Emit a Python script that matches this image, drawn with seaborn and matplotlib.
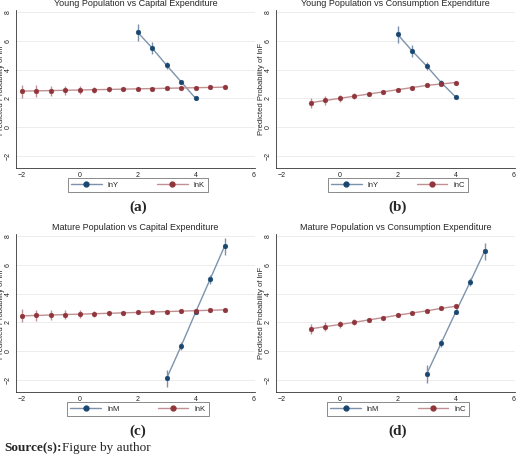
import matplotlib
matplotlib.use("Agg")
import matplotlib.pyplot as plt
import seaborn as sns
import numpy as np
import pandas as pd

sns.set_style("white")
plt.rcParams['font.family'] = ['Liberation Sans', 'DejaVu Sans']

x_y = [2, 2.5, 3, 3.5, 4]
a_lnY = [6.6, 5.5, 4.3, 3.15, 2.0]
a_lnY_err = [0.6, 0.4, 0.25, 0.15, 0.1]
x_k = [-2, -1.5, -1, -0.5, 0, 0.5, 1, 1.5, 2, 2.5, 3, 3.5, 4, 4.5, 5]
a_lnK = [2.5, 2.52, 2.54, 2.56, 2.58, 2.6, 2.62, 2.64, 2.66, 2.68, 2.7, 2.72, 2.74, 2.76, 2.78]
k_err = [0.45, 0.4, 0.35, 0.3, 0.26, 0.22, 0.18, 0.15, 0.12, 0.1, 0.1, 0.1, 0.1, 0.1, 0.12]
b_lnY = [6.45, 5.3, 4.25, 3.1, 2.1]
x_c = [-1, -0.5, 0, 0.5, 1, 1.5, 2, 2.5, 3, 3.5, 4]
b_lnC = [1.7, 1.85, 2.0, 2.15, 2.3, 2.45, 2.6, 2.75, 2.9, 3.0, 3.1]
c_err = [0.35, 0.3, 0.25, 0.2, 0.15, 0.12, 0.1, 0.1, 0.1, 0.1, 0.12]
x_m = [3, 3.5, 4, 4.5, 5]
c_lnM = [-1.9, 0.35, 2.7, 5.0, 7.3]
m_err = [0.6, 0.3, 0.15, 0.3, 0.6]
c_lnK = [2.45, 2.48, 2.51, 2.54, 2.57, 2.6, 2.63, 2.66, 2.69, 2.72, 2.75, 2.78, 2.81, 2.84, 2.87]
d_lnM = [-1.6, 0.55, 2.7, 4.8, 6.95]
d_lnC = [1.55, 1.7, 1.85, 2.0, 2.17, 2.33, 2.5, 2.65, 2.8, 2.97, 3.12]

NAVY = "#1a476f"; MAR = "#90353b"
NAVY_L = "#7d93ad"; MAR_L = "#c09093"

panels = [
    ("Young Population vs Capital Expenditure", "(a)", ("lnY", x_y, a_lnY, a_lnY_err), ("lnK", x_k, a_lnK, k_err)),
    ("Young Population vs Consumption Expenditure", "(b)", ("lnY", x_y, b_lnY, a_lnY_err), ("lnC", x_c, b_lnC, c_err)),
    ("Mature Population vs Capital Expenditure", "(c)", ("lnM", x_m, c_lnM, m_err), ("lnK", x_k, c_lnK, k_err)),
    ("Mature Population vs Consumption Expenditure", "(d)", ("lnM", x_m, d_lnM, m_err), ("lnC", x_c, d_lnC, c_err)),
]

fig = plt.figure(figsize=(5.2, 4.58), dpi=100)
W, H = 520, 458
for i, (title, lab, s1, s2) in enumerate(panels):
    ox = 0 if i % 2 == 0 else 260
    oy = 0 if i < 2 else 224
    ax = fig.add_axes([(ox + 16) / W, 1 - (oy + 168) / H, 239 / W, 158 / H])
    handles = []
    for (name, xs, ys, es), c, cl in [(s1, NAVY, NAVY_L), (s2, MAR, MAR_L)]:
        df = pd.DataFrame({"x": xs, "y": ys})
        ax.errorbar(xs, ys, yerr=es, fmt="none", ecolor=cl, elinewidth=1, zorder=1)
        sns.lineplot(data=df, x="x", y="y", ax=ax, color=cl, lw=1, zorder=2, legend=False)
        sns.scatterplot(data=df, x="x", y="y", ax=ax, color=c, s=12, edgecolor=c, zorder=3, legend=False)
        h, = ax.plot([], [], color=cl, lw=1, marker="o", ms=3.5, mfc=c, mec=c, label=name)
        handles.append(h)
    ax.set_xlim(-2.2, 6.05)
    ax.set_ylim(-2.85, 8.15)
    ax.set_xticks([-2, 0, 2, 4, 6])
    ax.set_yticks([-2, 0, 2, 4, 6, 8])
    ax.tick_params(labelsize=5, length=2, width=0.5, colors="#222222", pad=1)
    for t in ax.get_yticklabels():
        t.set_rotation(90); t.set_va("center")
    ax.set_xlabel("")
    ax.set_ylabel("Predicted Probability of lnF", fontsize=5.5)
    ax.yaxis.set_label_coords(-11 / 239, 0.5)
    ax.set_title(title, fontsize=6.5, pad=3)
    ax.grid(True, axis="y", color="#eaeaea", lw=0.6)
    for s in ["top", "right"]:
        ax.spines[s].set_visible(False)
    for s in ["left", "bottom"]:
        ax.spines[s].set_linewidth(0.6); ax.spines[s].set_color("#333333")
    leg = fig.legend(handles=handles, loc="center", ncol=2, fontsize=5.5,
                     bbox_to_anchor=((ox + 138) / W, 1 - (oy + 185) / H),
                     frameon=True, fancybox=False, edgecolor="#555555",
                     handlelength=4, columnspacing=5, borderpad=0.4)
    leg.get_frame().set_linewidth(0.6)
    fig.text((ox + 138) / W, 1 - (oy + 207) / H, lab, ha="center", va="center",
             fontsize=11, fontweight="bold", family="Liberation Serif")

fig.text(4 / W, 1 - 448 / H, "Source(s):", fontsize=9.5, fontweight="bold",
         family="Liberation Serif", va="center")
fig.text(62 / W, 1 - 448 / H, "Figure by author", fontsize=9.5,
         family="Liberation Serif", va="center")
fig.savefig("out.png", dpi=100)
